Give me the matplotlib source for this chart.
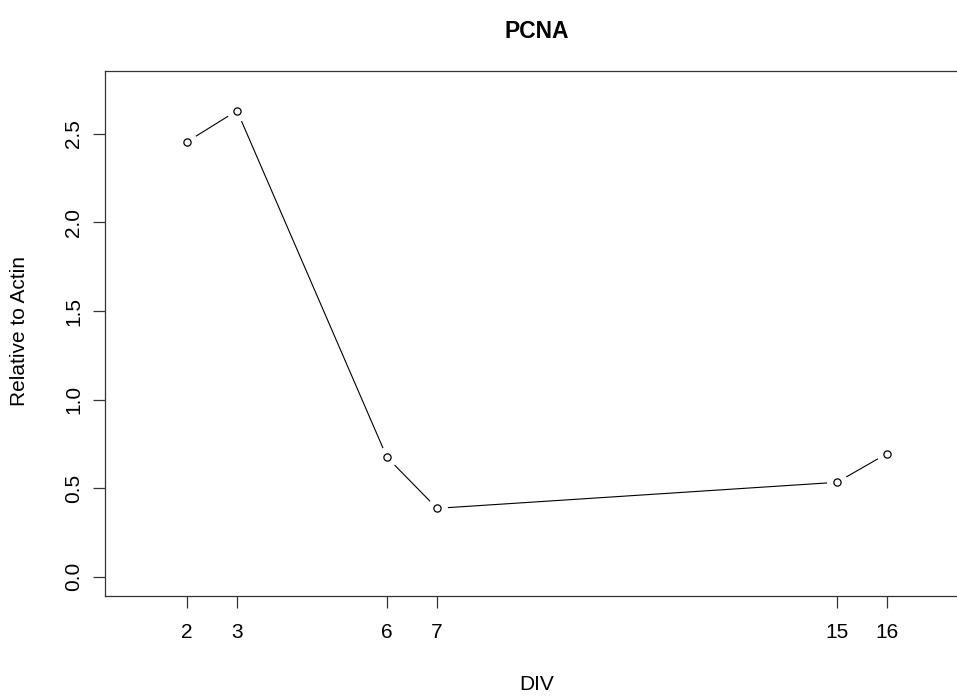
import matplotlib
matplotlib.use('Agg')
import matplotlib.pyplot as plt

plt.rcParams['font.family'] = ['Liberation Sans', 'DejaVu Sans']

div = [2, 3, 6, 7, 15, 16]
pcna = [2.456, 2.631, 0.674, 0.386, 0.533, 0.695]
y_ticks = [0.0, 0.5, 1.0, 1.5, 2.0, 2.5]
y_labels = ['0.0', '0.5', '1.0', '1.5', '2.0', '2.5']

W, H = 957, 696
fig = plt.figure(figsize=(W / 100, H / 100), dpi=100)
ax = fig.add_axes([105 / W, (H - 596) / H, (969 - 105) / W, (596 - 70.7) / H])

# R-style type="b": line with gaps around the open circles
ax.plot(div, pcna, '-', color='black', linewidth=0.8, zorder=2)
ax.plot(div, pcna, 'o', markersize=15, markerfacecolor='white',
        markeredgecolor='none', zorder=3)
ax.plot(div, pcna, 'o', markersize=5.2, markerfacecolor='white',
        markeredgecolor='black', markeredgewidth=0.9, zorder=4)

ax.set_xlim(0.36, 17.64)
ax.set_ylim(-0.109, 2.857)
ax.set_xticks(div)
ax.set_xticklabels([str(d) for d in div])
ax.set_yticks(y_ticks)
ax.set_yticklabels(y_labels, rotation=90, va='center')

for s in ax.spines.values():
    s.set_linewidth(0.9)
    s.set_color('#333333')
ax.tick_params(length=8.5, width=0.9, color='#333333', labelsize=15)
ax.tick_params(axis='x', pad=10.6)
ax.tick_params(axis='y', pad=7.3)

fig.text(537 / W, 1 - 32 / H, 'PCNA', ha='center', va='center',
         fontsize=16.5, fontweight='bold')
fig.text(537 / W, 1 - 684 / H, 'DIV', ha='center', va='center', fontsize=15)
fig.text(20 / W, 1 - 331 / H, 'Relative to Actin', ha='center', va='center',
         rotation=90, fontsize=15)

fig.savefig('out.png', dpi=100)
